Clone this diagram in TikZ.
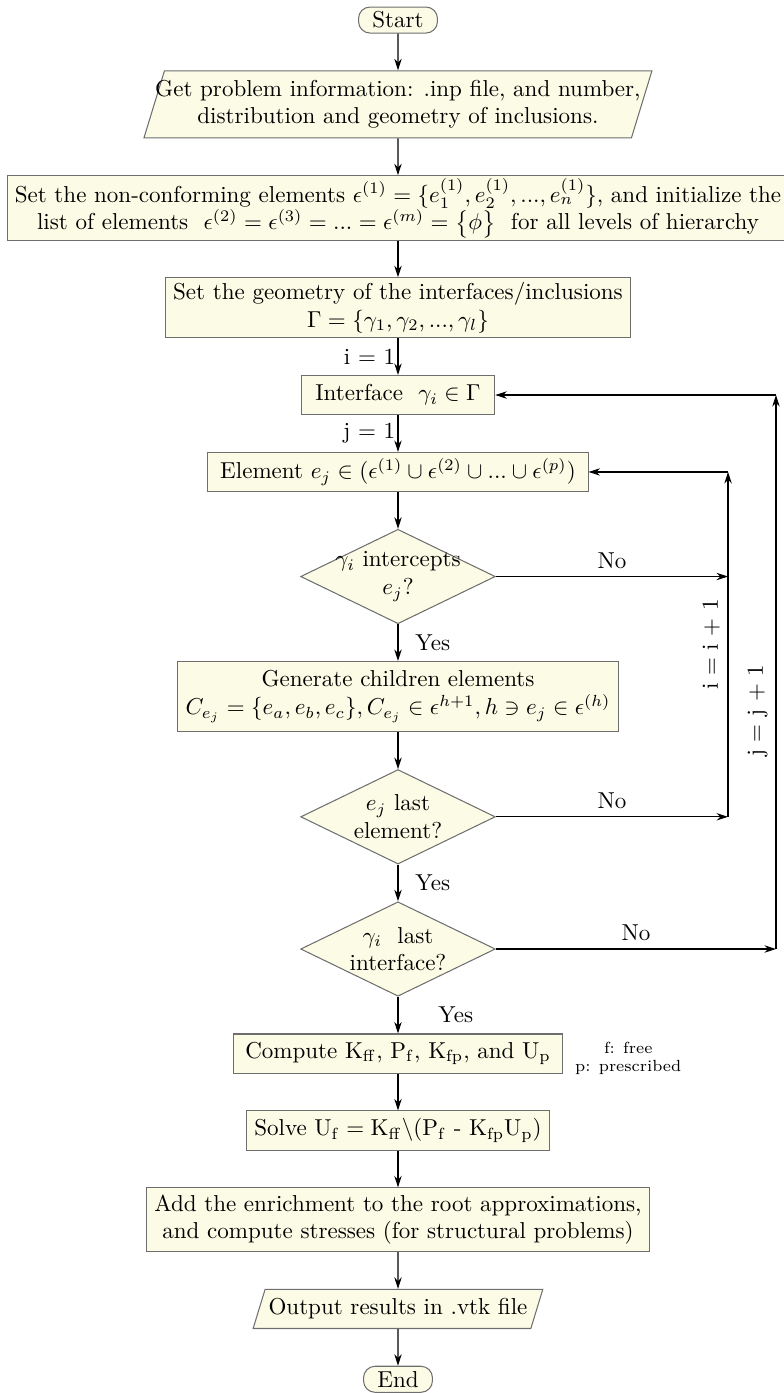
\documentclass[tikz,border=0pt]{standalone}
\usepackage{amsmath,amssymb}
\usepackage{xcolor}
\usepackage{tikz}
\usetikzlibrary{arrows.meta,positioning,calc,shapes.geometric}
\definecolor{Cream}{HTML}{FCFCE6}
\definecolor{Edge}{HTML}{6E6E6E}

\begin{document}
\begin{tikzpicture}[>={Stealth[length=5pt,width=3.2pt]}, node distance=15.95pt]
\tikzset{base/.style={draw=Edge, fill=Cream, align=center, line width=0.45pt}, term/.style={base, rounded corners=5pt, minimum height=11.3pt, inner xsep=6pt, inner ysep=2pt}, io/.style={base, trapezium, trapezium left angle=73, trapezium right angle=107, inner xsep=1.5pt, inner ysep=4pt}, proc/.style={base, rectangle, minimum height=17pt, inner ysep=2pt}, dec/.style={base, diamond, aspect=2.06, inner sep=-3pt, minimum width=84.5pt, minimum height=41pt}, flow/.style={->, line width=0.5pt}}
\useasboundingbox (-172.8pt,8.7pt) rectangle (167.2pt,-596.1pt);
\node[term] (start) at (0,0) {Start};
\node[io, inner xsep=-4pt, below=of start] (input) {Get problem information: .inp file, and number,\\distribution and geometry of inclusions.};
\node[proc, inner ysep=1pt, below=of input] (init) {Set the non-conforming elements $\epsilon^{(1)}=\{e_1^{(1)},e_2^{(1)},...,e_n^{(1)}\}$, and initialize the\\list of elements \ $\epsilon^{(2)}=\epsilon^{(3)}=...=\epsilon^{(m)}=\big\{\phi\big\}$ \ for all levels of hierarchy};
\node[proc, below=of init] (geom) {Set the geometry of the interfaces/inclusions\\$\Gamma=\{\gamma_1,\gamma_2,...,\gamma_l\}$};
\node[proc, minimum width=84pt, below=of geom] (iface) {Interface \ $\gamma_i\in\Gamma$};
\node[proc, minimum width=165pt, below=of iface] (elem) {Element $e_j\in(\epsilon^{(1)}\cup\epsilon^{(2)}\cup...\cup\epsilon^{(p)})$};
\node[dec, below=of elem] (cut) {$\gamma_i$ intercepts\\$e_j$?};
\node[proc, inner ysep=4pt, below=of cut] (kids) {Generate children elements\\$C_{e_j}=\{e_a,e_b,e_c\},C_{e_j}\in\epsilon^{h+1},h\ni e_j\in\epsilon^{(h)}$};
\node[dec, below=of kids] (lastel) {$e_j$ last\\element?};
\node[dec, below=of lastel] (lastif) {$\gamma_i$ \ last\\interface?};
\node[proc, minimum width=143pt, below=of lastif] (comp) {Compute $\mathrm{K_{ff}}$, $\mathrm{P_f}$, $\mathrm{K_{fp}}$, and $\mathrm{U_p}$};
\node[proc, below=of comp] (solve) {Solve $\mathrm{U_f}=\mathrm{K_{ff}}\backslash(\mathrm{P_f}$ - $\mathrm{K_{fp}U_p})$};
\node[proc, inner ysep=3pt, below=of solve] (enrich) {Add the enrichment to the root approximations,\\and compute stresses (for structural problems)};
\node[io, below=of enrich] (out) {Output results in .vtk file};
\node[term, below=of out] (stop) {End};
\node[font=\scriptsize, align=center, inner sep=1pt, right=4pt of comp, yshift=-2pt] (legend) {f: free\\p: prescribed};
\coordinate (irail) at (143.3pt,0);
\coordinate (jrail) at (164.1pt,0);
\foreach \x/\y in {start/input,input/init,init/geom,elem/cut,kids/lastel,comp/solve,solve/enrich,enrich/out,out/stop} \draw[flow] (\x)--(\y);
\draw[flow] (geom) -- node[left, inner sep=1pt]{i = 1} (iface);
\draw[flow] (iface) -- node[left, inner sep=1pt]{j = 1} (elem);
\draw[flow] (cut) -- node[right=4pt]{Yes} (kids);
\draw[flow] (lastel) -- node[right=4pt]{Yes} (lastif);
\draw[flow] (lastif) -- node[right=14pt]{Yes} (comp);
% loop back over the elements
\draw[flow] (cut.east) -- node[above]{No} (cut.east -| irail);
\draw[flow] (lastel.east) -- node[above]{No} (lastel.east -| irail);
\draw[flow] (lastel.east -| irail) -- node[sloped, above]{i = i + 1} (elem.east -| irail);
\draw[flow] (elem.east -| irail) -- (elem.east);
% loop back over the interfaces
\draw[flow] (lastif.east) -- node[above]{No} (lastif.east -| jrail);
\draw[flow] (lastif.east -| jrail) -- node[sloped, above, pos=.43]{j = j + 1} (iface.east -| jrail);
\draw[flow] (iface.east -| jrail) -- (iface.east);
\end{tikzpicture}
\end{document}
